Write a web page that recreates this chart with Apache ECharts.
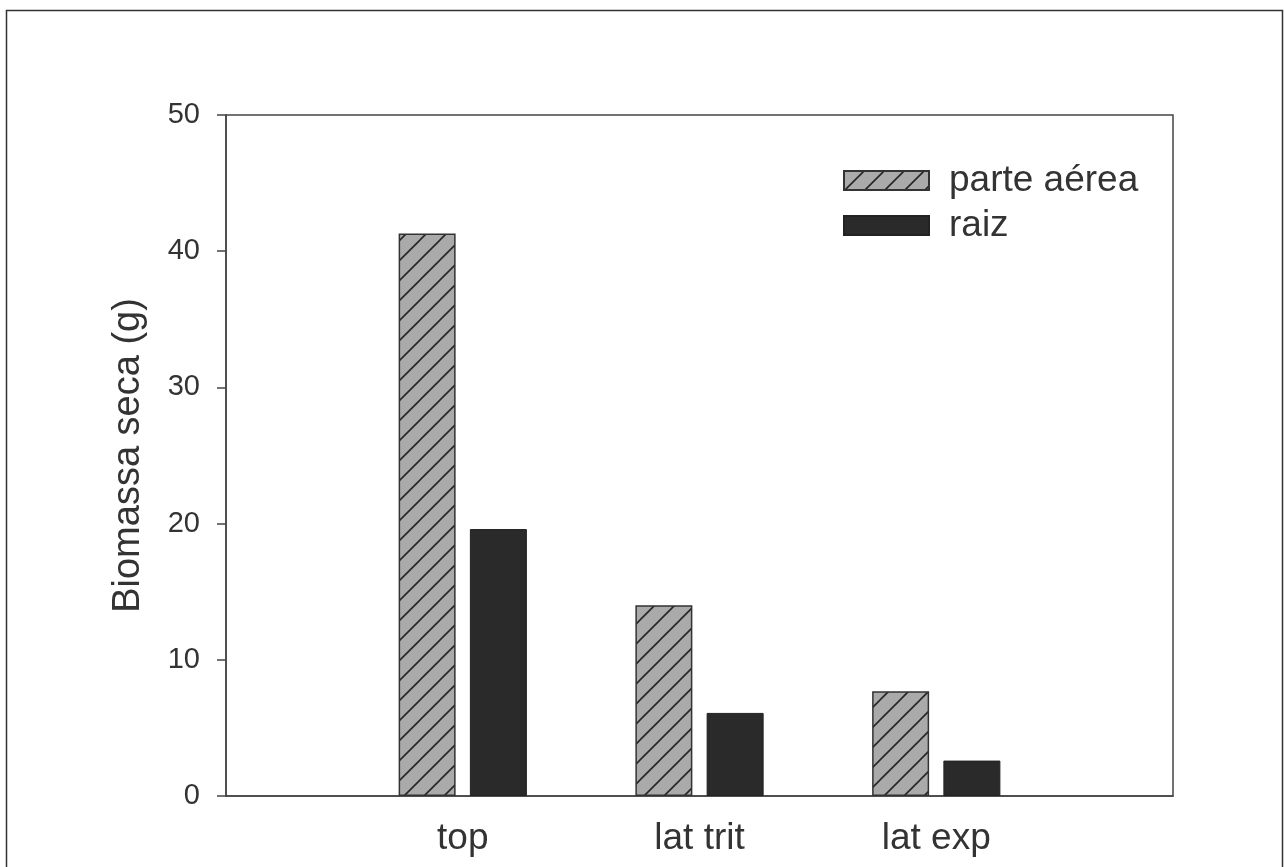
<!DOCTYPE html>
<html>
<head>
<meta charset="utf-8">
<script src="https://cdn.jsdelivr.net/npm/echarts@6/dist/echarts.min.js"></script>
<style>
html,body{margin:0;padding:0;background:#fff;}
#chart{width:1284px;height:867px;}
</style>
</head>
<body>
<div id="chart"></div>
<script>
var categories = ['top', 'lat trit', 'lat exp'];
var seriesNames = ['parte aérea', 'raiz'];
var parteAerea = [41.3, 14.0, 7.7];
var raiz = [19.6, 6.1, 2.6];
var yTicks = [0, 10, 20, 30, 40, 50];

// pad categories with empty slots at both ends (axis spans 0..4)
var xCats = [''].concat(categories, ['']);
function pad(arr) { return [null].concat(arr, [null]); }

function makeHatch() {
  var c = document.createElement('canvas');
  c.width = 20; c.height = 20;
  var g = c.getContext('2d');
  g.fillStyle = '#aaaaaa';
  g.fillRect(0, 0, 20, 20);
  g.strokeStyle = '#262626';
  g.lineWidth = 1.6;
  g.beginPath();
  g.moveTo(-10, 10); g.lineTo(10, -10);
  g.moveTo(0, 20); g.lineTo(20, 0);
  g.moveTo(10, 30); g.lineTo(30, 10);
  g.stroke();
  return c;
}
var hatch = { image: makeHatch(), repeat: 'repeat' };

var font = "'Liberation Sans', Arial, sans-serif";
var chart = echarts.init(document.getElementById('chart'), null, { renderer: 'canvas' });
chart.setOption({
  backgroundColor: '#ffffff',
  animation: false,
  graphic: [{
    type: 'rect',
    shape: { x: 6.5, y: 10.5, width: 1276, height: 900 },
    style: { fill: 'none', stroke: '#333', lineWidth: 1.5 },
    silent: true
  }],
  grid: {
    left: 226, right: 111, top: 115, bottom: 71,
    show: true, borderColor: '#444', borderWidth: 1.5, backgroundColor: 'transparent'
  },
  legend: {
    left: 843, top: 162, orient: 'vertical', padding: 0,
    itemWidth: 85, itemHeight: 19, itemGap: 8,
    icon: 'rect',
    textStyle: { fontFamily: font, fontSize: 37, color: '#333', padding: [0, 0, 0, 15] },
    data: seriesNames
  },
  xAxis: {
    type: 'category',
    data: xCats,
    boundaryGap: false,
    axisLine: { show: true, lineStyle: { color: '#444', width: 1.5 } },
    axisTick: { show: false },
    splitLine: { show: false },
    axisLabel: { interval: 0, margin: 24, fontFamily: font, fontSize: 37, color: '#333' }
  },
  yAxis: {
    type: 'value',
    min: yTicks[0], max: yTicks[yTicks.length - 1], interval: 10,
    name: 'Biomassa seca (g)',
    nameLocation: 'middle', nameRotate: 90, nameGap: 78,
    nameTextStyle: { fontFamily: font, fontSize: 38, color: '#333' },
    axisLine: { show: true, lineStyle: { color: '#444', width: 1.5 } },
    axisTick: { show: true, inside: false, length: 9, lineStyle: { color: '#444', width: 1.5 } },
    splitLine: { show: false },
    axisLabel: { margin: 26, fontFamily: font, fontSize: 29, color: '#333' }
  },
  series: [{
    name: seriesNames[0], type: 'bar', data: pad(parteAerea),
    barWidth: 57, barGap: '25%',
    itemStyle: { color: hatch, borderColor: '#333', borderWidth: 1.5 }
  }, {
    name: seriesNames[1], type: 'bar', data: pad(raiz),
    barWidth: 57, barGap: '25%',
    itemStyle: { color: '#2a2a2a', borderColor: '#222', borderWidth: 1 }
  }]
});
</script>
</body>
</html>
